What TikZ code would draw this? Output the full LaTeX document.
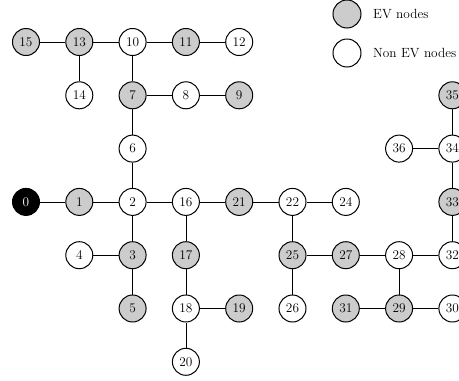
\documentclass[tikz,border=0pt]{standalone}
\begin{document}
\begin{tikzpicture}[x=1pt,y=-1pt,
  bus/.style={circle,draw,line width=1pt,minimum size=27pt,inner sep=0pt,
    font=\fontsize{13.3pt}{16pt}\selectfont},
  ev/.style={bus,fill=black!20},
  plain/.style={bus,fill=white},
  root/.style={bus,fill=black,text=white},
  link/.style={line width=0.7pt},
  legendtext/.style={anchor=west,inner sep=0pt,font=\fontsize{13.3pt}{16pt}\selectfont}]
\useasboundingbox (0,0) rectangle (459,381);

% legend
\node[ev,minimum size=28pt] (lev) at (347,14) {};
\node[legendtext] (levt) at (373,14) {EV nodes};
\node[plain,minimum size=28pt] (lnon) at (347,53) {};
\node[legendtext] (lnont) at (373,53) {Non EV nodes};

\begin{scope}[x=53.3pt,y=-53.3pt,shift={(26pt,-42pt)}]
  % row 0
  \node[ev]    (n15) at (0,0) {15};
  \node[ev]    (n13) at (1,0) {13};
  \node[plain] (n10) at (2,0) {10};
  \node[ev]    (n11) at (3,0) {11};
  \node[plain] (n12) at (4,0) {12};
  % row 1
  \node[plain] (n14) at (1,1) {14};
  \node[ev]    (n7)  at (2,1) {7};
  \node[plain] (n8)  at (3,1) {8};
  \node[ev]    (n9)  at (4,1) {9};
  \node[ev]    (n35) at (8,1) {35};
  % row 2
  \node[plain] (n6)  at (2,2) {6};
  \node[plain] (n36) at (7,2) {36};
  \node[plain] (n34) at (8,2) {34};
  % row 3
  \node[root]  (n0)  at (0,3) {0};
  \node[ev]    (n1)  at (1,3) {1};
  \node[plain] (n2)  at (2,3) {2};
  \node[plain] (n16) at (3,3) {16};
  \node[ev]    (n21) at (4,3) {21};
  \node[plain] (n22) at (5,3) {22};
  \node[plain] (n24) at (6,3) {24};
  \node[ev]    (n33) at (8,3) {33};
  % row 4
  \node[plain] (n4)  at (1,4) {4};
  \node[ev]    (n3)  at (2,4) {3};
  \node[ev]    (n17) at (3,4) {17};
  \node[ev]    (n25) at (5,4) {25};
  \node[ev]    (n27) at (6,4) {27};
  \node[plain] (n28) at (7,4) {28};
  \node[plain] (n32) at (8,4) {32};
  % row 5
  \node[ev]    (n5)  at (2,5) {5};
  \node[plain] (n18) at (3,5) {18};
  \node[ev]    (n19) at (4,5) {19};
  \node[plain] (n26) at (5,5) {26};
  \node[ev]    (n31) at (6,5) {31};
  \node[ev]    (n29) at (7,5) {29};
  \node[plain] (n30) at (8,5) {30};
  % row 6
  \node[plain] (n20) at (3,6) {20};
\end{scope}

\foreach \a/\b in {n15/n13,n13/n10,n10/n11,n11/n12,n13/n14,n10/n7,n7/n8,n8/n9,
  n7/n6,n6/n2,n0/n1,n1/n2,n2/n16,n16/n21,n21/n22,n22/n24,n2/n3,n4/n3,n3/n5,
  n16/n17,n17/n18,n18/n19,n18/n20,n22/n25,n25/n27,n27/n28,n28/n32,n25/n26,
  n28/n29,n31/n29,n29/n30,n32/n33,n33/n34,n34/n35,n36/n34}
  \draw[link] (\a) -- (\b);
\end{tikzpicture}
\end{document}
